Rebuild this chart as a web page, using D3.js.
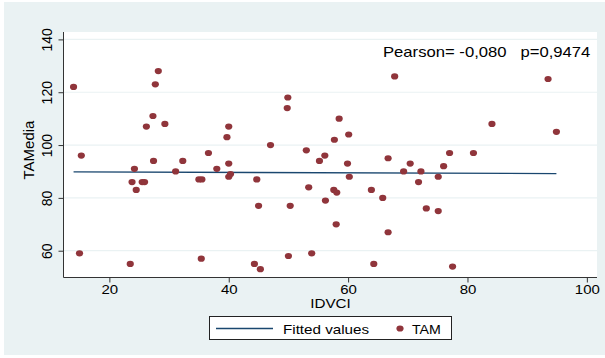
<!DOCTYPE html>
<html>
<head>
<meta charset="utf-8">
<script src="https://cdn.jsdelivr.net/npm/d3@7"></script>
<style>
  body { margin: 0; background: #fff; }
  svg { display: block; font-family: "Liberation Sans", Arial, sans-serif; }
</style>
</head>
<body>
<svg id="chart" width="605" height="358"></svg>
<script>
// IDVCI (x) y TAMedia (y)
const idvci = [14.0, 28.2, 27.7, 27.3, 26.2, 29.3, 40.0, 39.7, 15.3, 36.6,
  67.8, 49.9, 49.8, 58.5, 57.7, 60.1, 47.0, 53.0, 56.1, 93.5,
  84.1, 94.9, 77.0, 81.0, 24.2, 27.4, 32.3, 23.8, 25.5, 25.9,
  24.5, 31.1, 38.0, 40.0, 35.0, 35.5, 40.0, 40.3, 15.0, 23.5,
  35.4, 55.2, 59.9, 66.7, 70.4, 69.3, 72.2, 71.8, 44.7, 60.2,
  53.4, 57.6, 58.1, 63.9, 65.8, 56.2, 45.0, 50.3, 58.0, 66.7,
  50.0, 53.9, 44.3, 45.3, 64.3, 76.0, 75.1, 73.1, 75.1, 77.5];
const tamMedia = [122, 128, 123, 111, 107, 108, 107, 103, 96, 97,
  126, 118, 114, 110, 102, 104, 100, 98, 96, 125,
  108, 105, 97, 97, 91, 94, 94, 86, 86, 86,
  83, 90, 91, 93, 87, 87, 88, 89, 59, 55,
  57, 94, 93, 95, 93, 90, 90, 86, 87, 88,
  84, 83, 82, 83, 80, 79, 77, 77, 70, 67,
  58, 59, 55, 53, 55, 92, 88, 76, 75, 54];

// recta ajustada (extremos)
const fitX = [14.0, 94.9];
const fitY = [89.85, 89.2];

const xTicks = [20, 40, 60, 80, 100];
const yTicks = [60, 80, 100, 120, 140];
const statsText = "Pearson= -0,080   p=0,9474";

const svg = d3.select("#chart");
const plot = { left: 64, right: 597, top: 32, bottom: 277 };

const x = d3.scaleLinear().domain([12.4, 101.7]).range([plot.left, plot.right]);
const y = d3.scaleLinear().domain([50.05, 142.8]).range([plot.bottom, plot.top]);

// texto horizontal algo ensanchado (como la imagen original)
function wideText(parent, px, py, str, fs, sx, anchor) {
  return parent.append("g").attr("transform", `translate(${px},${py}) scale(${sx},1)`)
    .append("text").attr("font-size", fs).attr("text-anchor", anchor || "start")
    .attr("xml:space", "preserve").attr("fill", "#000").text(str);
}

// fondo
svg.append("rect").attr("x", 4).attr("y", 2).attr("width", 601).attr("height", 353)
  .attr("fill", "#eaf2f3");
svg.append("rect").attr("x", plot.left).attr("y", plot.top)
  .attr("width", plot.right - plot.left).attr("height", plot.bottom - plot.top)
  .attr("fill", "#fff");

// grilla
svg.append("g").selectAll("line").data(yTicks).join("line")
  .attr("x1", plot.left).attr("x2", plot.right)
  .attr("y1", d => y(d)).attr("y2", d => y(d))
  .attr("stroke", "#eaf2f3").attr("stroke-width", 1.2);

// ejes
const yAxis = svg.append("g").attr("transform", `translate(${plot.left - 0.5},0)`)
  .call(d3.axisLeft(y).tickValues(yTicks).tickSize(5).tickSizeOuter(0).tickPadding(6));
yAxis.select(".domain").attr("d", `M0,${plot.top}V${plot.bottom + 0.5}`).attr("stroke", "#333");
yAxis.selectAll(".tick line").attr("stroke", "#333");
yAxis.selectAll(".tick text")
  .attr("font-size", 14).attr("fill", "#000")
  .attr("transform", "rotate(-90)")
  .attr("x", 0).attr("y", -12).attr("dy", 0)
  .attr("text-anchor", "middle");

const xAxis = svg.append("g").attr("transform", `translate(0,${plot.bottom + 0.5})`)
  .call(d3.axisBottom(x).tickValues(xTicks).tickSize(5).tickSizeOuter(0));
xAxis.select(".domain").attr("d", `M${plot.left - 0.5},0H${plot.right}`).attr("stroke", "#333");
xAxis.selectAll(".tick line").attr("stroke", "#333");
xAxis.selectAll(".tick text").remove();
xAxis.selectAll(".tick").each(function (d) {
  wideText(d3.select(this), 0, 16, d, 12.5, 1.2, "middle");
});

// títulos
svg.append("text").attr("transform", `translate(34,150) rotate(-90)`)
  .attr("text-anchor", "middle").attr("font-size", 15).text("TAMedia");
wideText(svg, (plot.left + plot.right) / 2, 308, "IDVCI", 12, 1.27, "middle");

// recta ajustada
svg.append("line")
  .attr("x1", x(fitX[0])).attr("x2", x(fitX[1]))
  .attr("y1", y(fitY[0])).attr("y2", y(fitY[1]))
  .attr("stroke", "#1a476f").attr("stroke-width", 1.3);

// puntos
svg.append("g").selectAll("ellipse").data(idvci).join("ellipse")
  .attr("cx", (d) => x(d)).attr("cy", (d, i) => y(tamMedia[i]))
  .attr("rx", 3.6).attr("ry", 3.1)
  .attr("fill", "#90353b");

// texto de correlación
wideText(svg, 383, 56.5, statsText, 14, 1.19, "start");

// leyenda
const lg = svg.append("g");
lg.append("rect").attr("x", 209.5).attr("y", 316.5).attr("width", 242).attr("height", 23)
  .attr("fill", "#fff").attr("stroke", "#222");
lg.append("line").attr("x1", 216).attr("x2", 273).attr("y1", 328.5).attr("y2", 328.5)
  .attr("stroke", "#1a476f").attr("stroke-width", 1.3);
wideText(lg, 283, 333.5, "Fitted values", 13, 1.17, "start");
lg.append("ellipse").attr("cx", 400).attr("cy", 328.5).attr("rx", 3.6).attr("ry", 3.1)
  .attr("fill", "#90353b");
wideText(lg, 412, 333.5, "TAM", 13.5, 1.05, "start");
</script>
</body>
</html>
